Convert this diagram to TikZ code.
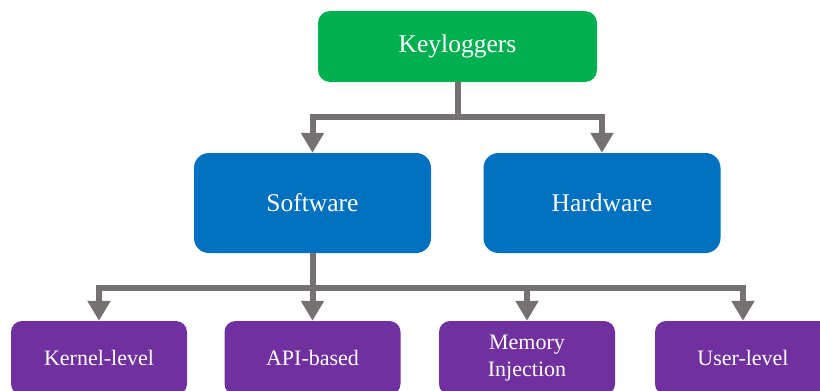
\documentclass[tikz,border=0pt]{standalone}
\usepackage{fontspec}
\setmainfont{Liberation Serif}
\usetikzlibrary{arrows.meta}
\definecolor{kgreen}{HTML}{00B050}
\definecolor{kblue}{HTML}{0070C0}
\definecolor{kpurple}{HTML}{7030A0}
\definecolor{kgray}{HTML}{767171}
\tikzset{
  box/.style={rounded corners=12pt, inner sep=0pt, text=white, align=center},
  topbox/.style={box, fill=kgreen, minimum width=279pt, minimum height=71pt, font=\fontsize{25.5}{29}\selectfont},
  midbox/.style={box, fill=kblue, rounded corners=15pt, minimum width=237pt, minimum height=100pt, font=\fontsize{25.5}{29}\selectfont},
  leafbox/.style={box, fill=kpurple, rounded corners=11pt, minimum width=176pt, minimum height=74pt, font=\fontsize{22}{27}\selectfont},
  link/.style={draw=kgray, line width=6pt},
  arrowlink/.style={link, -{Triangle[width=22pt,length=20pt]}}
}
\begin{document}
\begin{tikzpicture}[x=1pt,y=-1pt]
\useasboundingbox (0,0) rectangle (820,391);
\clip (0,0) rectangle (820,391);
\node[topbox] (top) at (457.5,46.5) {Keyloggers};
\node[midbox] (sw) at (312.5,203) {Software};
\node[midbox] (hw) at (602,203) {Hardware};
\node[leafbox] (kl) at (99,358) {Kernel-level};
\node[leafbox] (api) at (312.5,358) {API-based};
\node[leafbox] (mem) at (527,358) {Memory\\Injection};
\node[leafbox] (usr) at (743,358) {User-level};
\coordinate (j1) at (457.5,117);
\coordinate (j2) at (312.5,288);
\draw[link] (top.south) -- (j1);
\draw[arrowlink] (j1) -| (sw.north);
\draw[arrowlink] (j1) -| (hw.north);
\draw[link] (sw.south) -- (j2);
\draw[arrowlink] (j2) -| (kl.north);
\draw[arrowlink] (j2) -- (api.north);
\draw[arrowlink] (j2) -| (mem.north);
\draw[arrowlink] (j2) -| (usr.north);
\end{tikzpicture}
\end{document}
